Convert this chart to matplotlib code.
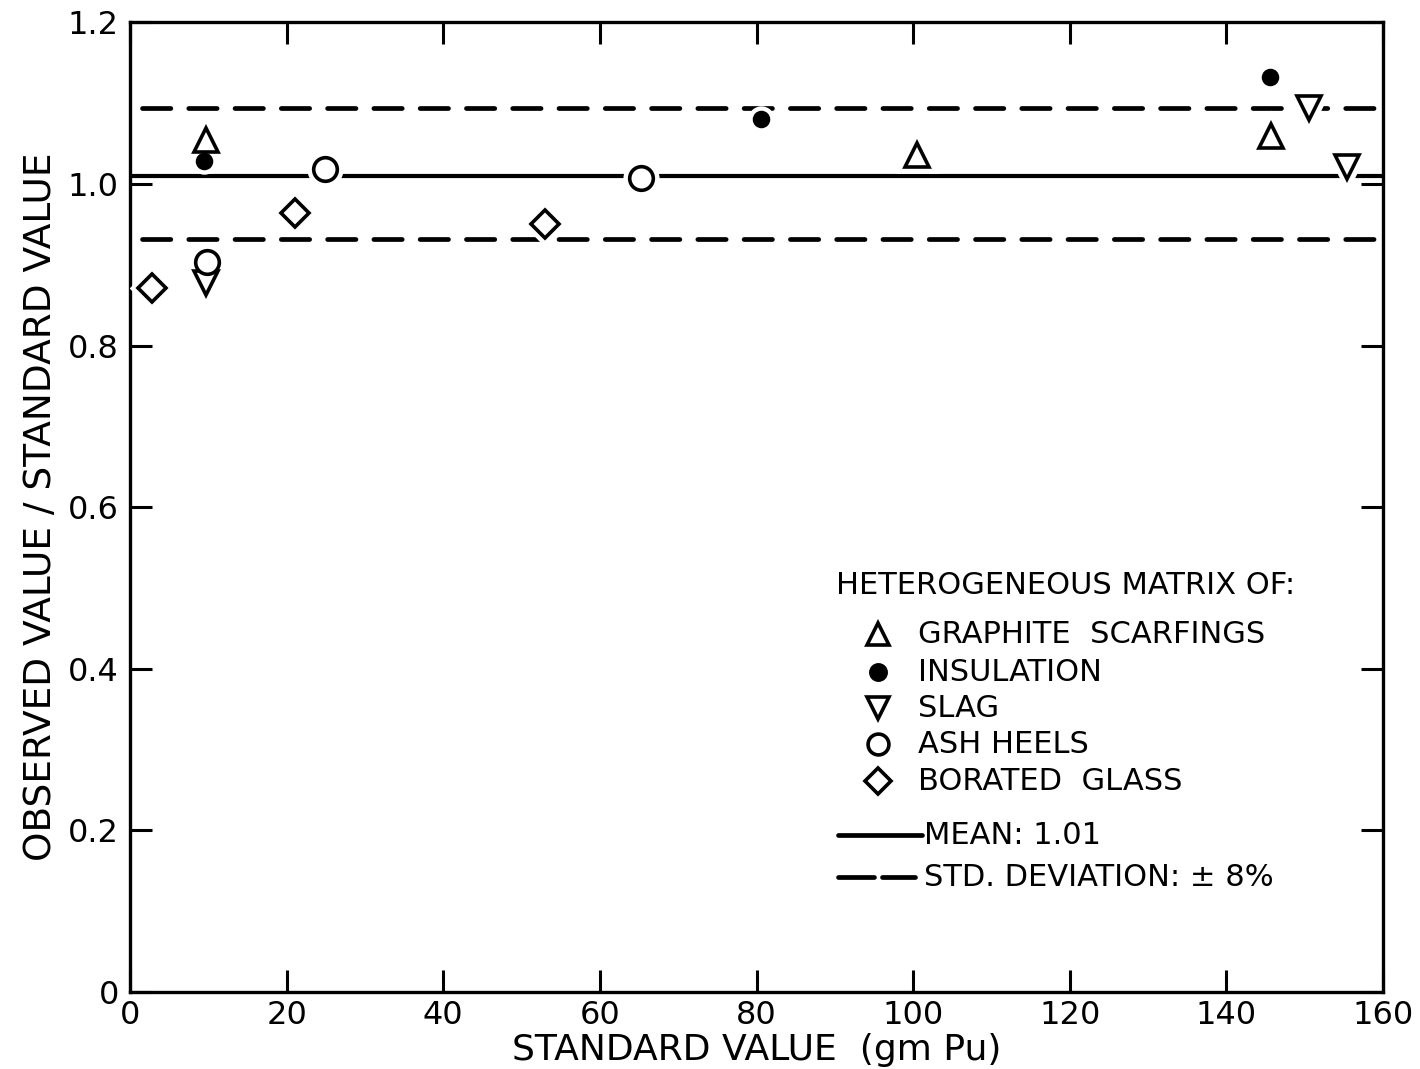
import matplotlib
matplotlib.use("Agg")
import matplotlib.pyplot as plt

# data
graphite_x = [9.7, 100.5, 145.7]
graphite_y = [1.054, 1.036, 1.060]
insulation_x = [9.5, 80.6, 145.6]
insulation_y = [1.029, 1.081, 1.132]
slag_x = [9.7, 150.6, 155.4]
slag_y = [0.878, 1.094, 1.021]
ash_x = [9.8, 24.9, 65.3]
ash_y = [0.903, 1.019, 1.008]
glass_x = [2.8, 21.1, 53.0]
glass_y = [0.871, 0.964, 0.950]

mean_val = 1.01
std_lines = [0.932, 1.094]

xticks = [0, 20, 40, 60, 80, 100, 120, 140, 160]
yticks = [0, 0.2, 0.4, 0.6, 0.8, 1.0, 1.2]
ytick_labels = ["0", "0.2", "0.4", "0.6", "0.8", "1.0", "1.2"]

plt.rcParams["font.family"] = "DejaVu Sans"

fig = plt.figure(figsize=(14.2, 10.69), dpi=100)
ax = fig.add_axes([0.0915, 0.072, 0.8825, 0.907])
ax.set_xlim(0, 160)
ax.set_ylim(0, 1.2)

LW = 3.4
ax.plot([0, 160], [mean_val, mean_val], color="black", lw=LW - 0.4,
        solid_capstyle="round", zorder=2)
for yv in std_lines:
    ax.plot([1.6, 159.5], [yv, yv], color="black", lw=LW,
            dashes=(6.0, 3.8), dash_capstyle="round", zorder=2)

series = [
    (graphite_x, graphite_y, "^", 17, "white"),
    (insulation_x, insulation_y, "o", 10, "black"),
    (slag_x, slag_y, "v", 17, "white"),
    (ash_x, ash_y, "o", 17, "white"),
    (glass_x, glass_y, "D", 14, "white"),
]
for xs, ys, m, ms, fc in series:
    # white halo so lines break around the symbols
    ax.plot(xs, ys, ls="none", marker=m, ms=ms, mfc="white", mec="white",
            mew=9, zorder=3)
    ax.plot(xs, ys, ls="none", marker=m, ms=ms, mfc=fc, mec="black",
            mew=2.6, zorder=4)

ax.set_xticks(xticks)
ax.set_xticklabels([str(t) for t in xticks])
ax.set_yticks(yticks)
ax.set_yticklabels(ytick_labels)
ax.tick_params(direction="in", length=16, width=2.2, top=True, right=True,
               labelsize=23, pad=8)
ax.tick_params(axis="x", pad=6)
for s in ax.spines.values():
    s.set_linewidth(2.4)

ax.set_xlabel("STANDARD VALUE  (gm Pu)", fontsize=26, labelpad=1)
ax.set_ylabel("OBSERVED VALUE / STANDARD VALUE", fontsize=27, labelpad=6)

# hand-drawn style legend (axes fraction coordinates)
def fx(px):
    return (px - 130) / 1253.0


def fy(py):
    return (992 - py) / 970.0


tr = ax.transAxes
LFS = 22
ax.text(fx(836), fy(585), "HETEROGENEOUS MATRIX OF:", transform=tr,
        fontsize=LFS, ha="left", va="center")
entries = [
    ("^", 16, "white", 634, "GRAPHITE  SCARFINGS"),
    ("o", 11, "black", 672, "INSULATION"),
    ("v", 16, "white", 708, "SLAG"),
    ("o", 15, "white", 744, "ASH HEELS"),
    ("D", 13, "white", 781, "BORATED  GLASS"),
]
for m, ms, fc, py, lab in entries:
    ax.plot([fx(878)], [fy(py)], transform=tr, ls="none", marker=m, ms=ms,
            mfc=fc, mec="black", mew=2.6, clip_on=False)
    ax.text(fx(918), fy(py), lab, transform=tr, fontsize=LFS,
            ha="left", va="center")

ax.plot([fx(838), fx(922)], [fy(835), fy(835)], transform=tr, color="black",
        lw=3.4, solid_capstyle="round")
ax.text(fx(924), fy(835), "MEAN: 1.01", transform=tr, fontsize=LFS,
        ha="left", va="center")
ax.plot([fx(838), fx(874)], [fy(877), fy(877)], transform=tr, color="black",
        lw=3.4, solid_capstyle="round")
ax.plot([fx(882), fx(915)], [fy(877), fy(877)], transform=tr, color="black",
        lw=3.4, solid_capstyle="round")
ax.text(fx(924), fy(877), "STD. DEVIATION: \u00b1 8%", transform=tr,
        fontsize=LFS, ha="left", va="center")

fig.savefig("out.png", dpi=100, facecolor="white")
